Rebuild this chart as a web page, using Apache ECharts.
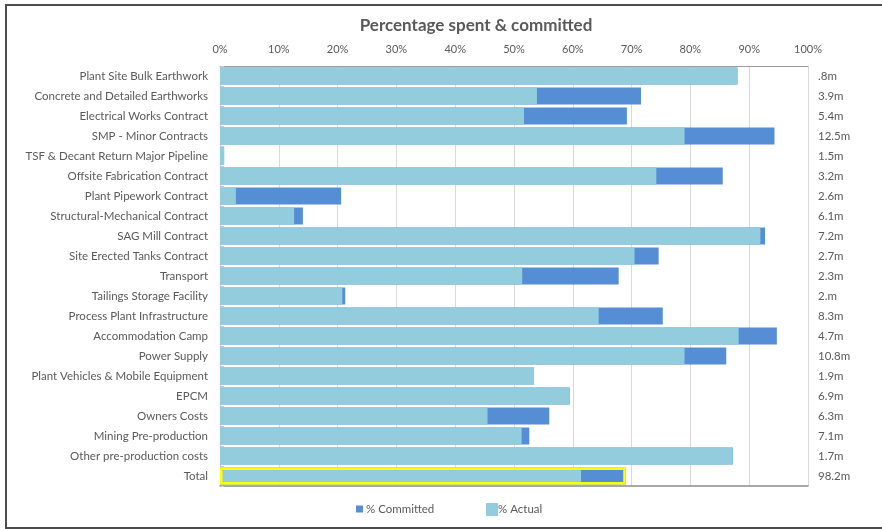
<!DOCTYPE html>
<html>
<head>
<meta charset="utf-8">
<script src="https://cdn.jsdelivr.net/npm/echarts@6/dist/echarts.min.js"></script>
<style>
	html, body { margin: 0; padding: 0; background: #fff; }
	#main { width: 882px; height: 529px; }
</style>
</head>
<body>
<div id="main"></div>
<script>
const categories = [
	"Plant Site Bulk Earthwork",
	"Concrete and Detailed Earthworks",
	"Electrical Works Contract",
	"SMP - Minor Contracts",
	"TSF & Decant Return Major Pipeline",
	"Offsite Fabrication Contract",
	"Plant Pipework Contract",
	"Structural-Mechanical Contract",
	"SAG Mill Contract",
	"Site Erected Tanks Contract",
	"Transport",
	"Tailings Storage Facility",
	"Process Plant Infrastructure",
	"Accommodation Camp",
	"Power Supply",
	"Plant Vehicles & Mobile Equipment",
	"EPCM",
	"Owners Costs",
	"Mining Pre-production",
	"Other pre-production costs",
	"Total",
];

const budgets = [
	".8m", "3.9m", "5.4m", "12.5m", "1.5m", "3.2m", "2.6m", "6.1m", "7.2m", "2.7m",
	"2.3m", "2.m", "8.3m", "4.7m", "10.8m", "1.9m", "6.9m", "6.3m", "7.1m", "1.7m", "98.2m",
];

// % actual spent
const actual = [
	88.0, 53.9, 51.7, 79.0, 0.7, 74.2, 2.7, 12.6, 91.9, 70.5,
	51.4, 20.8, 64.4, 88.2, 79.0, 53.4, 59.5, 45.5, 51.3, 87.2, 61.4,
];

// % committed (actual + outstanding commitments)
const committed = [
	88.0, 71.6, 69.2, 94.3, 0.7, 85.5, 20.6, 14.1, 92.7, 74.6,
	67.8, 21.3, 75.3, 94.7, 86.1, 53.4, 59.5, 56.0, 52.6, 87.2, 69.0,
];

const pctTicks = [0, 10, 20, 30, 40, 50, 60, 70, 80, 90, 100];

const textColor = "#595959";
const font = "Lato";

// outline only around the Total row
const totalOutline = committed.map((v, i) =>
	categories[i] === "Total" ? v : null
);

let chart = echarts.init(document.getElementById("main"));

chart.setOption({
	animation: false,
	textStyle: { fontFamily: font },
	title: {
		text: "Percentage spent & committed",
		left: 471,
		textAlign: "center",
		top: 12,
		textStyle: { fontSize: 17, fontWeight: "bold", color: textColor, fontFamily: font },
	},
	graphic: [
		{
			type: "rect",
			shape: { x: 6, y: 5, width: 900, height: 523 },
			style: { fill: "none", stroke: "#4d4d4d", lineWidth: 2 },
			silent: true,
		},
	],
	legend: [
		{
			data: ["% Committed"],
			left: 351,
			top: 498,
			itemWidth: 7,
			itemHeight: 7,
			itemGap: 4,
			icon: "rect",
			textStyle: { color: textColor, fontSize: 11.5, fontFamily: font, padding: [0, 0, 0, -2] },
		},
		{
			data: ["% Actual"],
			left: 481,
			top: 498,
			itemWidth: 12,
			itemHeight: 13,
			icon: "rect",
			textStyle: { color: textColor, fontSize: 11.5, fontFamily: font, padding: [0, 0, 0, -5] },
		},
	],
	grid: { left: 220, right: 74, top: 66, bottom: 43 },
	xAxis: [
		{
			type: "value",
			position: "top",
			min: 0,
			max: 100,
			interval: 10,
			axisLine: { show: true, lineStyle: { color: "#9a9a9a", width: 1 } },
			axisTick: { show: false },
			axisLabel: {
				formatter: (v) => (pctTicks.includes(v) ? v + "%" : ""),
				color: textColor,
				fontSize: 11,
				margin: 11,
			},
			splitLine: { show: true, lineStyle: { color: "#d9d9d9" } },
		},
		{
			type: "value",
			position: "bottom",
			min: 0,
			max: 100,
			interval: 10,
			axisLine: { show: true, onZero: false, lineStyle: { color: "#8c8c8c", width: 1.5 } },
			axisTick: { show: false },
			axisLabel: { show: false },
			splitLine: { show: false },
		},
	],
	yAxis: [
		{
			type: "category",
			data: categories,
			inverse: true,
			axisLine: { show: false },
			axisTick: { show: false },
			axisLabel: { color: textColor, fontSize: 11.5, margin: 12 },
		},
		{
			type: "category",
			data: budgets,
			inverse: true,
			position: "right",
			axisLine: { show: true, lineStyle: { color: "#c8c8c8" } },
			axisTick: { show: true, length: 4, lineStyle: { color: "#c8c8c8" } },
			axisLabel: { color: textColor, fontSize: 11.5, margin: 10 },
		},
	],
	series: [
		{
			name: "% Committed",
			type: "bar",
			data: committed,
			itemStyle: { color: "#558ED5" },
			barCategoryGap: "14%",
			barGap: "-100%",
		},
		{
			name: "% Actual",
			type: "bar",
			data: actual,
			itemStyle: { color: "#93CDDD" },
			barGap: "-100%",
		},
		{
			name: "outline",
			type: "bar",
			data: totalOutline,
			itemStyle: { color: "rgba(0,0,0,0)", borderColor: "#FFFF00", borderWidth: 2.5 },
			barGap: "-100%",
			silent: true,
		},
	],
});
</script>
</body>
</html>
